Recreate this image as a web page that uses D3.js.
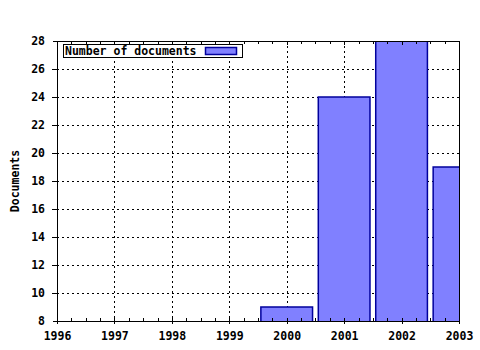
<!DOCTYPE html>
<html>
<head>
<meta charset="utf-8">
<script src="https://cdn.jsdelivr.net/npm/d3@7"></script>
<style>
  body { margin: 0; background: #fff; }
  text { font-family: "DejaVu Sans Mono", monospace; font-weight: bold; font-size: 11.5px; fill: #000; }
</style>
</head>
<body>
<svg id="chart" width="480" height="350"></svg>
<script>
// data
const years = [2000, 2001, 2002, 2003];
const documents = [9, 24, 28, 19];
const yearTicks = [1996, 1997, 1998, 1999, 2000, 2001, 2002, 2003];
const docTicks = [8, 10, 12, 14, 16, 18, 20, 22, 24, 26, 28];
const seriesName = "Number of documents";
const yTitle = "Documents";

const margin = { top: 41, right: 21, bottom: 29, left: 57 };
const width = 480 - margin.left - margin.right;
const height = 350 - margin.top - margin.bottom;

const svg = d3.select("svg#chart");
const g = svg.append("g").attr("transform", `translate(${margin.left},${margin.top})`);

const xScale = d3.scaleLinear().domain([1996, 2003]).range([0, width]);
const yScale = d3.scaleLinear().domain([8, 28]).range([height, 0]);

// minor ticks every quarter year
const quarterTicks = d3.range(1996, 2003.001, 0.25);

g.append("clipPath").attr("id", "plot")
  .append("rect").attr("width", width).attr("height", height);

// grid (dotted)
const grid = g.append("g").attr("stroke", "#000").attr("stroke-dasharray", "2,3")
  .attr("shape-rendering", "crispEdges");
grid.selectAll(".hg").data(docTicks.slice(1, -1)).enter().append("line")
  .attr("x1", -5).attr("x2", width)
  .attr("y1", d => Math.round(yScale(d)) + 0.5).attr("y2", d => Math.round(yScale(d)) + 0.5);
grid.selectAll(".vg").data(yearTicks.slice(1, -1)).enter().append("line")
  .attr("y1", 0).attr("y2", height)
  .attr("x1", d => Math.round(xScale(d)) + 0.5).attr("x2", d => Math.round(xScale(d)) + 0.5);

// bars
const barW = xScale(1996.9) - xScale(1996);
g.append("g").attr("clip-path", "url(#plot)")
  .selectAll("rect").data(years).enter().append("rect")
  .attr("x", d => xScale(d) - barW / 2)
  .attr("y", (d, i) => yScale(documents[i]))
  .attr("width", barW)
  .attr("height", (d, i) => height - yScale(documents[i]) + 2)
  .attr("fill", "#8080ff")
  .attr("stroke", "#00009c")
  .attr("stroke-width", 1.5);

// frame
g.append("rect").attr("x", 0.5).attr("y", 0.5).attr("width", width).attr("height", height)
  .attr("fill", "none").attr("stroke", "#000").attr("shape-rendering", "crispEdges");

// bottom axis
const xAxis = g.append("g").attr("transform", `translate(0,${height})`)
  .call(d3.axisBottom(xScale).tickValues(yearTicks).tickFormat(d3.format("d")).tickSize(3).tickPadding(8));
xAxis.select(".domain").remove();
xAxis.selectAll(".tick line").attr("y1", -3).attr("shape-rendering", "crispEdges");
xAxis.selectAll("text").attr("font-size", null).attr("font-family", null);
xAxis.append("g").selectAll("line").data(quarterTicks).enter().append("line")
  .attr("x1", d => Math.round(xScale(d)) + 0.5).attr("x2", d => Math.round(xScale(d)) + 0.5)
  .attr("y1", 0).attr("y2", -3).attr("stroke", "#000").attr("shape-rendering", "crispEdges");

// top ticks
g.append("g").selectAll("line").data(quarterTicks).enter().append("line")
  .attr("x1", d => Math.round(xScale(d)) + 0.5).attr("x2", d => Math.round(xScale(d)) + 0.5)
  .attr("y1", 0).attr("y2", d => Number.isInteger(d) ? 4 : 3)
  .attr("stroke", "#000").attr("shape-rendering", "crispEdges");

// left axis
const yAxis = g.append("g")
  .call(d3.axisLeft(yScale).tickValues(docTicks).tickFormat(d3.format("d")).tickSize(4).tickPadding(8));
yAxis.select(".domain").remove();
yAxis.selectAll(".tick line").attr("x2", -4).attr("x1", 0).attr("shape-rendering", "crispEdges");
yAxis.selectAll("text").attr("font-size", null).attr("font-family", null);

// y title
svg.append("text")
  .attr("transform", `translate(19,${margin.top + height / 2}) rotate(-90)`)
  .attr("text-anchor", "middle")
  .text(yTitle);

// legend
const legend = g.append("g").attr("transform", "translate(6,3)");
legend.append("rect").attr("x", 0.5).attr("y", 0.5).attr("width", 179).attr("height", 13)
  .attr("fill", "#fff").attr("stroke", "#000").attr("shape-rendering", "crispEdges");
legend.append("text").attr("x", 2).attr("y", 11).text(seriesName);
legend.append("rect").attr("x", 142.5).attr("y", 3.5).attr("width", 31).attr("height", 7)
  .attr("fill", "#8080ff").attr("stroke", "#00009c").attr("stroke-width", 1.5);
</script>
</body>
</html>
